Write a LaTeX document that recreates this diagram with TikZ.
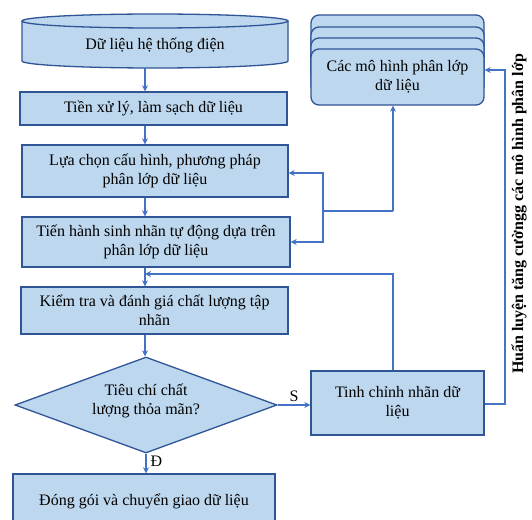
\documentclass[tikz,border=0pt]{standalone}
\usepackage{fontspec}
\setmainfont{Liberation Serif}
\usetikzlibrary{arrows.meta,shapes.geometric}
\definecolor{boxfill}{HTML}{BDD7EE}
\definecolor{boxdraw}{HTML}{2F5597}
\definecolor{lineblue}{HTML}{4472C4}
\tikzset{
  box/.style={draw=boxdraw, fill=boxfill, line width=1.3pt, align=center, inner sep=0pt,
    font=\fontsize{16}{18.5}\selectfont},
  dia/.style={diamond, aspect=2.73, draw=boxdraw, fill=boxfill, line width=1.3pt, align=center,
    inner sep=0pt, font=\fontsize{16}{18.5}\selectfont},
  conn/.style={draw=lineblue, line width=1.2pt},
  arr/.style={conn, -{Stealth[length=6pt,width=6pt]}},
  lbl/.style={font=\fontsize{16}{18.5}\selectfont, inner sep=0pt},
}
\begin{document}
\begin{tikzpicture}[x=1pt,y=-1pt]
\clip (0,0) rectangle (532,519);
\fill[white] (0,0) rectangle (532,519);
% cylinder
\fill[boxfill] (22,21) -- (22,61) arc[start angle=180,end angle=360,x radius=133pt,y radius=7pt] -- (288,21) -- cycle;
\draw[boxdraw, line width=1.3pt] (22,21) -- (22,61) arc[start angle=180,end angle=360,x radius=133pt,y radius=7pt] -- (288,21);
\draw[boxdraw, fill=boxfill, line width=1.3pt] (155,21) ellipse[x radius=133pt, y radius=7pt];
\node[lbl, minimum width=266pt, minimum height=40pt] (db) at (155,45) {Dữ liệu hệ thống điện};
\path (145,68) coordinate (dbb);
% main boxes
\node[box, minimum width=267pt, minimum height=33pt] (pre) at (153.5,108.5) {Tiền xử lý, làm sạch dữ liệu};
\node[box, minimum width=266pt, minimum height=52pt] (sel) at (155,171) {Lựa chọn cấu hình, phương pháp\\phân lớp dữ liệu};
\node[box, minimum width=268pt, minimum height=50pt] (gen) at (156,242) {Tiến hành sinh nhãn tự động dựa trên\\phân lớp dữ liệu};
\node[box, minimum width=267pt, minimum height=47pt] (chk) at (154.5,310.5) {Kiểm tra và đánh giá chất lượng tập\\nhãn};
\node[dia, minimum width=262pt, minimum height=96pt] (q) at (146,405) {\\[-15pt]Tiêu chí chất\\lượng thỏa mãn?};
\node[box, minimum width=262pt, minimum height=54pt] (pack) at (144,501) {Đóng gói và chuyển giao dữ liệu};
\node[box, minimum width=173pt, minimum height=64pt] (fine) at (397.5,403) {Tinh chỉnh nhãn dữ\\liệu};
% model stack
\foreach \t in {15,27,38}{
  \draw[boxdraw, fill=boxfill, line width=1.3pt, rounded corners=8pt] (311,\t) rectangle (484,\t+56);
}
\node[box, rounded corners=8pt, minimum width=173pt, minimum height=56pt] (mod) at (397.5,77) {Các mô hình phân lớp\\dữ liệu};
% vertical label
\node[lbl, rotate=90, font=\bfseries\fontsize{16}{18.5}\selectfont] (train) at (519,214) {Huấn luyện tăng cườngg các mô hình phân lớp};
% coordinates
\coordinate (j1) at (145,274);
\coordinate (j2) at (393,274);
\coordinate (m1) at (393,211);
\coordinate (m2) at (323,211);
\coordinate (m3) at (323,173);
\coordinate (m4) at (323,242);
\coordinate (r1) at (505,404);
\coordinate (r2) at (505,70);
% connectors
\draw[arr] (dbb) -- (pre.north -| dbb);
\draw[arr] (pre.south -| dbb) -- (sel.north -| dbb);
\draw[arr] (sel.south -| dbb) -- (gen.north -| dbb);
\draw[arr] (gen.south -| dbb) -- (chk.north -| dbb);
\draw[arr] (chk.south -| dbb) -- (q.north -| dbb);
\draw[arr] (q.south) -- (pack.north -| q.south) node[lbl, pos=0.4, right=4pt] {Đ};
\draw[arr] (q.east) -- (fine.west |- q.east) node[lbl, midway, above=3pt] {S};
\draw[arr] (fine.north -| j2) -- (j2) -- (j1);
\draw[arr] (m1) -- (mod.south -| m1);
\draw[conn] (m1) -- (m2);
\draw[arr] (m2) -- (m3) -- (sel.east |- m3);
\draw[arr] (m2) -- (m4) -- (gen.east |- m4);
\draw[arr] (fine.east |- r1) -- (r1) -- (r2) -- (mod.east |- r2);
\end{tikzpicture}
\end{document}
